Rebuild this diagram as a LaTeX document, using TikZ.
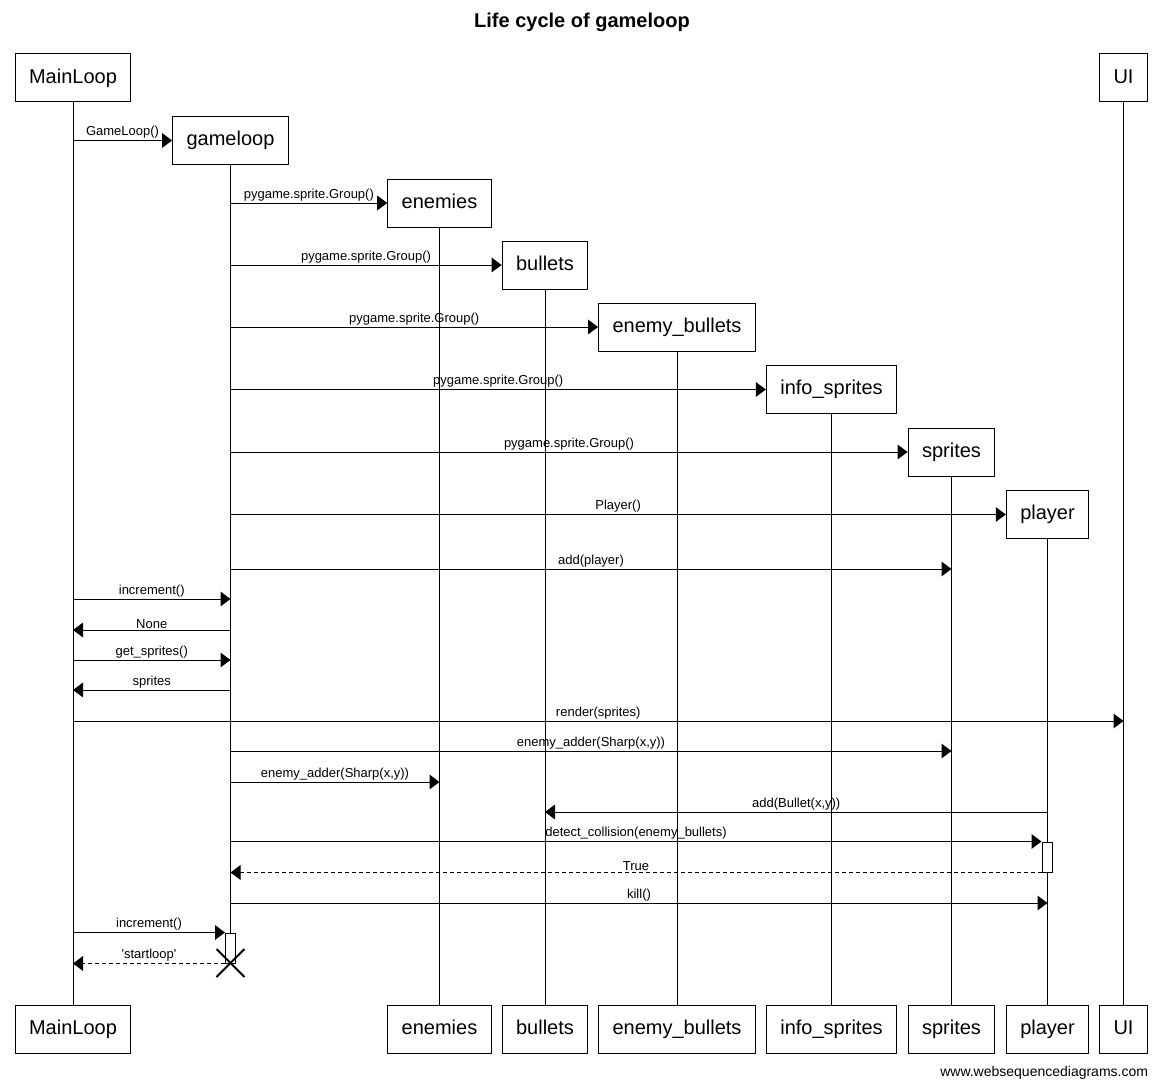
\documentclass[tikz,border=0pt]{standalone}
\usepackage{fontspec}
\setmainfont{Liberation Sans}[Ligatures=TeXOff]
\usetikzlibrary{arrows.meta}

\begin{document}
\begin{tikzpicture}[
  x=0.75pt, y=-0.75pt,
  line width=0.75pt,
  actor/.style={rectangle,draw,fill=white,minimum height=36pt,inner xsep=10.5pt,text height=11pt,text depth=3pt,font=\fontsize{15}{18}\selectfont},
  msg/.style={-{Triangle[length=7.5pt,width=11pt]}},
  reply/.style={msg,dash pattern=on 3pt off 2.25pt},
  lbl/.style={above,inner sep=1pt,font=\fontsize{9.75}{11}\selectfont},
  act/.style={rectangle,draw,fill=white,minimum width=7.5pt,minimum height=22.5pt,inner sep=0pt}
]
  \useasboundingbox (0,0) rectangle (1161,1088);

  \node[font=\bfseries\fontsize{15}{18}\selectfont] (title) at (582,22) {Life cycle of gameloop};

  % participants, top
  \node[actor] (mainloop) at (73,78) {MainLoop};
  \node[actor] (ui) at (1123.5,78) {UI};
  \node[actor] (gameloop) at (230.5,140.5) {gameloop};
  \node[actor] (enemies) at (439.5,203) {enemies};
  \node[actor] (bullets) at (545,265) {bullets};
  \node[actor] (enemybullets) at (677,327) {enemy\_bullets};
  \node[actor] (infosprites) at (831.5,389.5) {info\_sprites};
  \node[actor] (sprites) at (951.5,452) {sprites};
  \node[actor] (player) at (1047.5,514.5) {player};

  % participants, bottom
  \node[actor] (mainloopB) at (73,1029.5) {MainLoop};
  \node[actor] (enemiesB) at (439.5,1029.5) {enemies};
  \node[actor] (bulletsB) at (545,1029.5) {bullets};
  \node[actor] (enemybulletsB) at (677,1029.5) {enemy\_bullets};
  \node[actor] (infospritesB) at (831.5,1029.5) {info\_sprites};
  \node[actor] (spritesB) at (951.5,1029.5) {sprites};
  \node[actor] (playerB) at (1047.5,1029.5) {player};
  \node[actor] (uiB) at (1123.5,1029.5) {UI};

  \coordinate (gend) at (230.5,963);

  % lifelines
  \draw (mainloop) -- (mainloopB);
  \draw (ui) -- (uiB);
  \draw (gameloop) -- (gend);
  \draw (enemies) -- (enemiesB);
  \draw (bullets) -- (bulletsB);
  \draw (enemybullets) -- (enemybulletsB);
  \draw (infosprites) -- (infospritesB);
  \draw (sprites) -- (spritesB);
  \draw (player) -- (playerB);

  % activations
  \node[act] (pact) at (1047,857) {};
  \node[act] (gact) at (230.5,948) {};

  % messages
  \draw[msg] (mainloop |- gameloop) -- (gameloop.west) node[lbl,midway] {GameLoop()};
  \draw[msg] (gameloop |- enemies) -- (enemies.west) node[lbl,midway] {pygame.sprite.Group()};
  \draw[msg] (gameloop |- bullets) -- (bullets.west) node[lbl,midway] {pygame.sprite.Group()};
  \draw[msg] (gameloop |- enemybullets) -- (enemybullets.west) node[lbl,midway] {pygame.sprite.Group()};
  \draw[msg] (gameloop |- infosprites) -- (infosprites.west) node[lbl,midway] {pygame.sprite.Group()};
  \draw[msg] (gameloop |- sprites) -- (sprites.west) node[lbl,midway] {pygame.sprite.Group()};
  \draw[msg] (gameloop |- player) -- (player.west) node[lbl,midway] {Player()};
  \draw[msg] (gameloop |- 0,569) -- (sprites |- 0,569) node[lbl,midway] {add(player)};
  \draw[msg] (mainloop |- 0,599) -- (gameloop |- 0,599) node[lbl,midway] {increment()};
  \draw[msg] (gameloop |- 0,630) -- (mainloop |- 0,630) node[lbl,midway] {None};
  \draw[msg] (mainloop |- 0,660) -- (gameloop |- 0,660) node[lbl,midway] {get\_sprites()};
  \draw[msg] (gameloop |- 0,690) -- (mainloop |- 0,690) node[lbl,midway] {sprites};
  \draw[msg] (mainloop |- 0,721) -- (ui |- 0,721) node[lbl,midway] {render(sprites)};
  \draw[msg] (gameloop |- 0,751) -- (sprites |- 0,751) node[lbl,midway] {enemy\_adder(Sharp(x,y))};
  \draw[msg] (gameloop |- 0,782) -- (enemies |- 0,782) node[lbl,midway] {enemy\_adder(Sharp(x,y))};
  \draw[msg] (player |- 0,812) -- (bullets |- 0,812) node[lbl,midway] {add(Bullet(x,y))};
  \draw[msg] (gameloop |- pact.north) -- (pact.north west) node[lbl,midway] {detect\_collision(enemy\_bullets)};
  \draw[reply] (pact.south west) -- (gameloop |- pact.south) node[lbl,midway] {True};
  \draw[msg] (gameloop |- 0,903) -- (player |- 0,903) node[lbl,midway] {kill()};
  \draw[msg] (mainloop |- gact.north) -- (gact.north west) node[lbl,midway] {increment()};
  \draw[reply] (gact.south west) -- (mainloop |- gact.south) node[lbl,midway] {'startloop'};

  % end of gameloop
  \draw[line width=1.5pt] (gend) ++(-14,-14) -- ++(28,28);
  \draw[line width=1.5pt] (gend) ++(-14,14) -- ++(28,-28);

  \node[anchor=east,font=\fontsize{10.5}{12}\selectfont] (footer) at (1153,1073) {www.websequencediagrams.com};
\end{tikzpicture}
\end{document}
